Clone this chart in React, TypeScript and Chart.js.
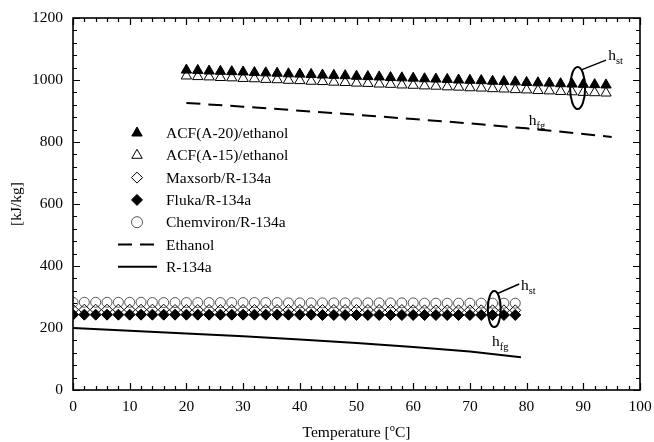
import { useEffect, useRef } from "react";
import { Chart, registerables } from "chart.js";

Chart.register(...registerables);

const FONT = "'Liberation Serif', 'Times New Roman', serif";

// ---- data ----
const adsorbentTemps = [20, 22, 24, 26, 28, 30, 32, 34, 36, 38, 40, 42, 44, 46, 48, 50, 52, 54, 56, 58, 60, 62, 64, 66, 68, 70, 72, 74, 76, 78, 80, 82, 84, 86, 88, 90, 92, 94];
const acfA20 = [1032, 1031, 1029, 1028, 1027, 1026, 1024, 1023, 1022, 1020, 1019, 1018, 1016, 1015, 1014, 1012, 1011, 1010, 1008, 1007, 1006, 1004, 1003, 1002, 1000, 999, 998, 996, 995, 994, 992, 991, 990, 988, 987, 986, 985, 984];
const acfA15 = [1013, 1011, 1010, 1008, 1007, 1005, 1004, 1002, 1001, 999, 998, 996, 995, 993, 992, 990, 989, 987, 986, 984, 983, 981, 980, 978, 977, 975, 974, 972, 971, 969, 968, 966, 965, 963, 962, 960, 959, 958];

const r134aTemps = [0, 2, 4, 6, 8, 10, 12, 14, 16, 18, 20, 22, 24, 26, 28, 30, 32, 34, 36, 38, 40, 42, 44, 46, 48, 50, 52, 54, 56, 58, 60, 62, 64, 66, 68, 70, 72, 74, 76, 78];
const chemviron = [283, 283, 283, 283, 283, 283, 283, 282, 282, 282, 282, 282, 282, 282, 282, 282, 282, 282, 282, 281, 281, 281, 281, 281, 281, 281, 281, 281, 281, 281, 281, 280, 280, 280, 280, 280, 280, 280, 280, 280];
const maxsorb = [259, 259, 259, 259, 259, 259, 259, 259, 259, 258, 258, 258, 258, 258, 258, 258, 258, 258, 258, 258, 258, 258, 258, 258, 258, 258, 258, 258, 258, 258, 257, 257, 257, 257, 257, 257, 257, 257, 257, 257];
const fluka = [243, 243, 243, 243, 243, 243, 243, 243, 243, 243, 243, 243, 243, 243, 243, 243, 243, 243, 243, 243, 243, 243, 242, 242, 242, 242, 242, 242, 242, 242, 242, 242, 242, 242, 242, 242, 242, 242, 242, 242];

const ethanolTemps = [20, 30, 40, 50, 60, 70, 80, 90, 95];
const ethanolHfg = [926, 914, 901, 888, 874, 860, 844, 826, 816];
const r134aLineTemps = [0, 10, 20, 30, 40, 50, 60, 70, 79];
const r134aHfg = [200, 191, 182, 173, 163, 152, 139, 124, 106];

const xTickLabels = ["0", "10", "20", "30", "40", "50", "60", "70", "80", "90", "100"];
const yTickLabels = ["0", "200", "400", "600", "800", "1000", "1200"];

const legendLabels = ["ACF(A-20)/ethanol", "ACF(A-15)/ethanol", "Maxsorb/R-134a", "Fluka/R-134a", "Chemviron/R-134a", "Ethanol", "R-134a"];

const pts = (xs: number[], ys: number[]) => xs.map((x, i) => ({ x, y: ys[i] }));

function drawMarker(ctx: CanvasRenderingContext2D, style: string, cx: number, cy: number, r: number, filled: boolean, color: string) {
  ctx.beginPath();
  if (style === "triangle") {
    for (let k = 0; k < 3; k++) {
      const a = (k * 2 * Math.PI) / 3;
      const px = cx + Math.sin(a) * r;
      const py = cy - Math.cos(a) * r;
      if (k === 0) ctx.moveTo(px, py);
      else ctx.lineTo(px, py);
    }
    ctx.closePath();
  } else if (style === "rectRot") {
    ctx.moveTo(cx, cy - r);
    ctx.lineTo(cx + r, cy);
    ctx.lineTo(cx, cy + r);
    ctx.lineTo(cx - r, cy);
    ctx.closePath();
  } else {
    ctx.arc(cx, cy, r, 0, Math.PI * 2);
  }
  if (filled) {
    ctx.fillStyle = color;
    ctx.fill();
  }
  ctx.strokeStyle = color;
  ctx.lineWidth = 1;
  ctx.stroke();
}

function drawSubText(ctx: CanvasRenderingContext2D, main: string, sub: string, x: number, baseline: number) {
  ctx.fillStyle = "#000";
  ctx.textAlign = "left";
  ctx.textBaseline = "alphabetic";
  ctx.font = `15.5px ${FONT}`;
  ctx.fillText(main, x, baseline);
  const w = ctx.measureText(main).width;
  ctx.font = `10.5px ${FONT}`;
  ctx.fillText(sub, x + w, baseline + 4);
}

const decorPlugin = {
  id: "decor",
  afterDraw(chart: any) {
    const { ctx, chartArea: a, scales } = chart;
    const xs = scales.x;
    const ys = scales.y;
    ctx.save();
    // frame
    ctx.strokeStyle = "#000";
    ctx.lineWidth = 1.6;
    ctx.strokeRect(a.left, a.top, a.right - a.left, a.bottom - a.top);
    // inward ticks
    ctx.lineWidth = 1.2;
    ctx.beginPath();
    for (let v = 0; v <= 100; v += 2) {
      const px = Math.round(xs.getPixelForValue(v)) + 0.5;
      const len = v % 10 === 0 ? 7 : 4;
      ctx.moveTo(px, a.bottom);
      ctx.lineTo(px, a.bottom - len);
      ctx.moveTo(px, a.top);
      ctx.lineTo(px, a.top + len);
    }
    for (let v = 0; v <= 1200; v += 40) {
      const py = Math.round(ys.getPixelForValue(v)) + 0.5;
      const len = v % 200 === 0 ? 7 : 4;
      ctx.moveTo(a.left, py);
      ctx.lineTo(a.left + len, py);
      ctx.moveTo(a.right, py);
      ctx.lineTo(a.right - len, py);
    }
    ctx.stroke();

    // axis titles
    ctx.fillStyle = "#000";
    ctx.font = `15.5px ${FONT}`;
    const p1 = "Temperature [";
    const p3 = "C]";
    const w1 = ctx.measureText(p1).width;
    const w3 = ctx.measureText(p3).width;
    ctx.font = `10.5px ${FONT}`;
    const w2 = ctx.measureText("o").width;
    const total = w1 + w2 + w3;
    const cx = (a.left + a.right) / 2;
    let tx = cx - total / 2;
    const base = 437;
    ctx.textAlign = "left";
    ctx.textBaseline = "alphabetic";
    ctx.font = `15.5px ${FONT}`;
    ctx.fillText(p1, tx, base);
    tx += w1;
    ctx.font = `10.5px ${FONT}`;
    ctx.fillText("o", tx, base - 6);
    tx += w2;
    ctx.font = `15.5px ${FONT}`;
    ctx.fillText(p3, tx, base);

    ctx.save();
    ctx.translate(17, (a.top + a.bottom) / 2);
    ctx.rotate(-Math.PI / 2);
    ctx.textAlign = "center";
    ctx.textBaseline = "middle";
    ctx.font = `15.5px ${FONT}`;
    ctx.fillText("[kJ/kg]", 0, 0);
    ctx.restore();

    // legend
    const ds = chart.data.datasets;
    const lx = 137;
    const textX = 166;
    const y0 = 133;
    const dy = 22.3;
    legendLabels.forEach((label, i) => {
      const y = y0 + i * dy;
      const d = ds[i];
      if (d.showLine) {
        ctx.beginPath();
        ctx.setLineDash(d.borderDash || []);
        ctx.strokeStyle = "#000";
        ctx.lineWidth = d.borderWidth;
        ctx.moveTo(118, y);
        ctx.lineTo(157, y);
        ctx.stroke();
        ctx.setLineDash([]);
      } else {
        drawMarker(ctx, d.pointStyle, lx, y, d.legendRadius, d.filled, d.pointBorderColor);
      }
      ctx.fillStyle = "#000";
      ctx.font = `15.5px ${FONT}`;
      ctx.textAlign = "left";
      ctx.textBaseline = "middle";
      ctx.fillText(label, textX, y + 1);
    });

    // annotations
    const X = (v: number) => xs.getPixelForValue(v);
    const Y = (v: number) => ys.getPixelForValue(v);
    const ellipses = [
      { x: 89, y: 974, rx: 7.5, ry: 21, ex: 94.0, ey: 1064, tx: 94.4, ty: 1066 },
      { x: 74.3, y: 261, rx: 6.5, ry: 18, ex: 78.7, ey: 342, tx: 79.0, ty: 322 },
    ];
    ctx.strokeStyle = "#000";
    ctx.lineWidth = 2;
    ellipses.forEach((e) => {
      const ecx = X(e.x);
      const ecy = Y(e.y);
      ctx.beginPath();
      ctx.ellipse(ecx, ecy, e.rx, e.ry, 0, 0, Math.PI * 2);
      ctx.stroke();
      const ang = -Math.PI / 3;
      ctx.beginPath();
      ctx.lineWidth = 1.5;
      ctx.moveTo(ecx + e.rx * Math.cos(ang), ecy + e.ry * Math.sin(ang));
      ctx.lineTo(X(e.ex), Y(e.ey));
      ctx.stroke();
      ctx.lineWidth = 2;
      drawSubText(ctx, "h", "st", X(e.tx), Y(e.ty));
    });
    drawSubText(ctx, "h", "fg", X(80.4), Y(855));
    drawSubText(ctx, "h", "fg", X(73.9), Y(142));
    ctx.restore();
  },
};

export default function App() {
  const ref = useRef<HTMLCanvasElement | null>(null);
  useEffect(() => {
    document.body.style.margin = "0";
    const canvas = ref.current;
    if (!canvas) return;
    const markerBase = { showLine: false, borderWidth: 1 };
    const chart = new Chart(canvas, {
      type: "scatter",
      data: {
        datasets: [
          { ...markerBase, label: legendLabels[0], data: pts(adsorbentTemps, acfA20), pointStyle: "triangle", pointRadius: 6, pointBackgroundColor: "#000", pointBorderColor: "#000", filled: true, legendRadius: 6, order: 1 } as any,
          { ...markerBase, label: legendLabels[1], data: pts(adsorbentTemps, acfA15), pointStyle: "triangle", pointRadius: 6, pointBackgroundColor: "rgba(0,0,0,0)", pointBorderColor: "#000", filled: false, legendRadius: 6, order: 2 } as any,
          { ...markerBase, label: legendLabels[2], data: pts(r134aTemps, maxsorb), pointStyle: "rectRot", pointRadius: 5.5, pointBackgroundColor: "rgba(0,0,0,0)", pointBorderColor: "#000", filled: false, legendRadius: 5.5, order: 3 } as any,
          { ...markerBase, label: legendLabels[3], data: pts(r134aTemps, fluka), pointStyle: "rectRot", pointRadius: 5.5, pointBackgroundColor: "#000", pointBorderColor: "#000", filled: true, legendRadius: 5.5, order: 1 } as any,
          { ...markerBase, label: legendLabels[4], data: pts(r134aTemps, chemviron), pointStyle: "circle", pointRadius: 5, pointBackgroundColor: "rgba(0,0,0,0)", pointBorderColor: "#555", filled: false, legendRadius: 5.5, order: 4 } as any,
          { label: legendLabels[5], data: pts(ethanolTemps, ethanolHfg), showLine: true, borderColor: "#000", borderWidth: 2, borderDash: [14, 8], pointRadius: 0, tension: 0, order: 5 } as any,
          { label: legendLabels[6], data: pts(r134aLineTemps, r134aHfg), showLine: true, borderColor: "#000", borderWidth: 2, pointRadius: 0, tension: 0, order: 5 } as any,
        ],
      },
      options: {
        animation: false,
        responsive: false,
        devicePixelRatio: 1,
        layout: { padding: { top: 18, right: 14, left: 0, bottom: 0 } },
        plugins: { legend: { display: false }, tooltip: { enabled: false } },
        scales: {
          x: {
            type: "linear",
            min: 0,
            max: 100,
            grid: { display: false, drawTicks: false },
            border: { display: false },
            afterFit: (s: any) => { s.height = 52; s.paddingLeft = 0; s.paddingRight = 0; },
            ticks: {
              stepSize: 10,
              padding: 8,
              color: "#000",
              font: { family: FONT, size: 15.5 },
              callback: (_v: any, i: number) => xTickLabels[i],
              maxRotation: 0,
            },
          },
          y: {
            type: "linear",
            min: 0,
            max: 1200,
            grid: { display: false, drawTicks: false },
            border: { display: false },
            afterFit: (s: any) => { s.width = 73; s.paddingTop = 0; s.paddingBottom = 0; },
            ticks: {
              stepSize: 200,
              padding: 10,
              color: "#000",
              font: { family: FONT, size: 15.5 },
              callback: (_v: any, i: number) => yTickLabels[i],
            },
          },
        },
      } as any,
      plugins: [decorPlugin],
    });
    return () => chart.destroy();
  }, []);
  return (
    <div style={{ width: 654, height: 442 }}>
      <canvas ref={ref} width={654} height={442} style={{ display: "block" }} />
    </div>
  );
}
